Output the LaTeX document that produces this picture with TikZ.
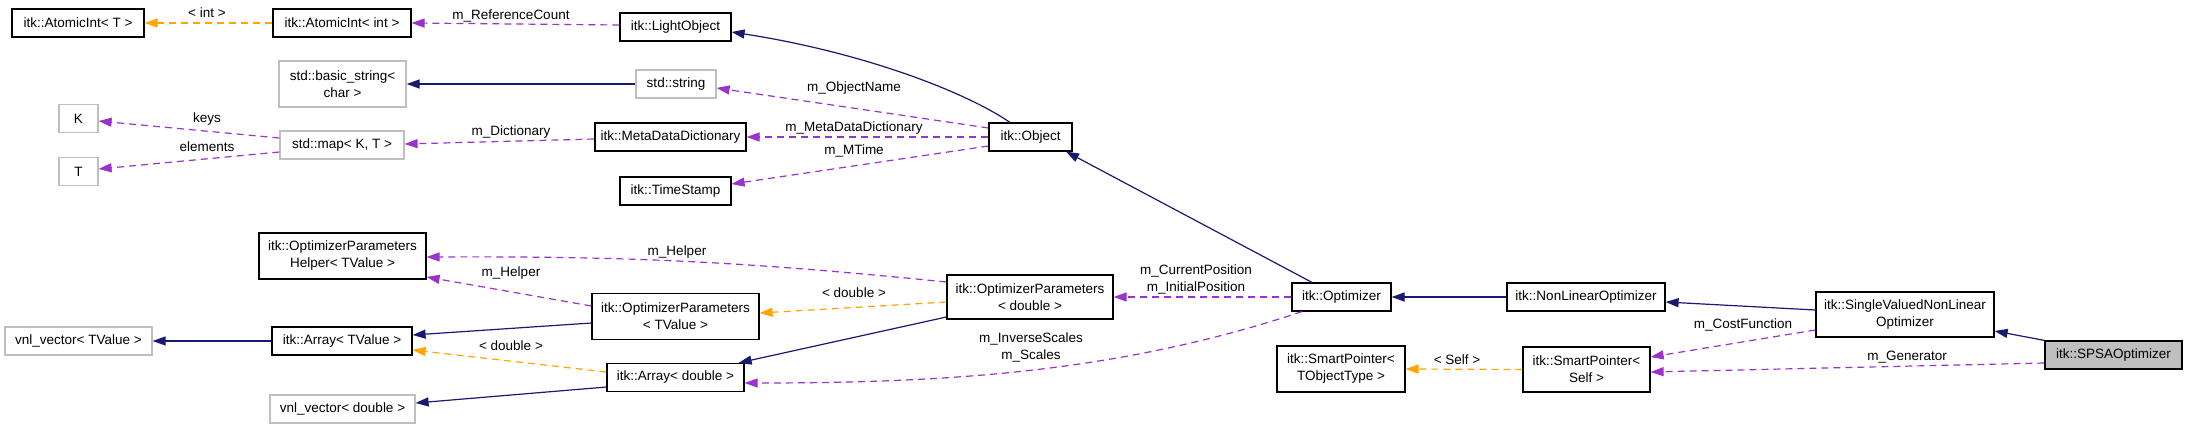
\documentclass[tikz,border=0pt]{standalone}
\usepackage{fontspec}
\setmainfont{Liberation Sans}
\usetikzlibrary{arrows.meta}
\definecolor{navy}{HTML}{191970}
\definecolor{usecol}{HTML}{9A32CD}
\definecolor{tplcol}{HTML}{FFA500}
\definecolor{gbord}{HTML}{BFBFBF}
\begin{document}
\begin{tikzpicture}[x=1pt,y=-1pt,
  every node/.style={font=\fontsize{13.5}{17}\selectfont, inner sep=0pt, align=center},
  cls/.style={draw=black, line width=1.2pt, fill=white, minimum height=28pt},
  ext/.style={draw=gbord, line width=1.2pt, fill=white, minimum height=28pt},
  tall/.style={minimum height=46pt},
  inh/.style={draw=navy, line width=1.2pt, -{Triangle[length=13pt,width=9pt]}},
  usage/.style={draw=usecol, line width=1.2pt, dash pattern=on 7pt off 5pt, -{Triangle[length=13pt,width=9pt]}},
  tpl/.style={draw=tplcol, line width=1.2pt, dash pattern=on 7pt off 5pt, -{Triangle[length=13pt,width=9pt]}},
  lbl/.style={}
]
\fill[white] (0,0) rectangle (2187,429);
\useasboundingbox (0,0) rectangle (2187,429);

% nodes
\node[cls, minimum width=132pt] (ait) at (78,23) {itk::AtomicInt< T >};
\node[cls, minimum width=138pt] (aii) at (342,23) {itk::AtomicInt< int >};
\node[cls, minimum width=111pt] (lo) at (675.5,27) {itk::LightObject};
\node[ext, tall, minimum width=127pt] (bs) at (342.5,84) {std::basic\_string<\\char >};
\node[ext, minimum width=80pt] (ss) at (676,84) {std::string};
\node[ext, minimum width=39pt] (K) at (78.5,118.5) {K};
\node[ext, minimum width=39pt] (T) at (78.5,171.5) {T};
\node[ext, minimum width=124pt] (map) at (342,145) {std::map< K, T >};
\node[cls, minimum width=151pt] (mdd) at (670.5,137) {itk::MetaDataDictionary};
\node[cls, minimum width=111pt] (ts) at (675.5,191) {itk::TimeStamp};
\node[cls, minimum width=83pt] (obj) at (1030.5,137) {itk::Object};
\node[cls, tall, minimum width=167pt] (oph) at (342.5,256) {itk::OptimizerParameters\\Helper< TValue >};
\node[cls, tall, minimum width=167pt] (opt) at (675.5,316.5) {itk::OptimizerParameters\\< TValue >};
\node[ext, minimum width=147pt] (vt) at (78.5,341) {vnl\_vector< TValue >};
\node[cls, minimum width=140pt] (at) at (342,341) {itk::Array< TValue >};
\node[cls, minimum width=137pt] (ad) at (675.5,377.5) {itk::Array< double >};
\node[ext, minimum width=145pt] (vd) at (342.5,409) {vnl\_vector< double >};
\node[cls, tall, minimum height=44pt, minimum width=166pt] (opd) at (1030,297) {itk::OptimizerParameters\\< double >};
\node[cls, minimum width=99pt] (optz) at (1341.5,297) {itk::Optimizer};
\node[cls, tall, minimum width=128pt] (spt) at (1341,369) {itk::SmartPointer<\\TObjectType >};
\node[cls, minimum width=158pt] (nlo) at (1586,297) {itk::NonLinearOptimizer};
\node[cls, tall, minimum height=45pt, minimum width=178pt] (svn) at (1905,314.5) {itk::SingleValuedNonLinear\\Optimizer};
\node[cls, minimum width=137pt, fill=gbord] (spsa) at (2113.5,355) {itk::SPSAOptimizer};
\node[cls, tall, minimum height=45pt, minimum width=127pt] (sps) at (1586.5,369.5) {itk::SmartPointer<\\Self >};

% labels
\node[lbl] (l1) at (207,13) {< int >};
\node[lbl] (l2) at (511,16) {m\_ReferenceCount};
\node[lbl] (l3) at (854,88) {m\_ObjectName};
\node[lbl] (l4) at (511,132) {m\_Dictionary};
\node[lbl] (l5) at (207,119) {keys};
\node[lbl] (l6) at (207,147) {elements};
\node[lbl] (l7) at (854,128) {m\_MetaDataDictionary};
\node[lbl] (l8) at (854,151) {m\_MTime};
\node[lbl] (l9) at (677,252) {m\_Helper};
\node[lbl] (l10) at (511,273) {m\_Helper};
\node[lbl] (l11) at (854,293) {< double >};
\node[lbl] (l12) at (511,346) {< double >};
\node[lbl] (l13) at (1196,279.5) {m\_CurrentPosition\\m\_InitialPosition};
\node[lbl] (l14) at (1031,347.5) {m\_InverseScales\\m\_Scales};
\node[lbl] (l15) at (1743,325) {m\_CostFunction};
\node[lbl] (l16) at (1907,357) {m\_Generator};
\node[lbl] (l17) at (1457,360) {< Self >};

% edges
\draw[tpl] (aii.west) -- (ait.east);
\draw[usage] ([yshift=2pt]lo.west) -- (aii.east);
\draw[inh] ([xshift=-20.5pt]obj.north) .. controls (964,91) and (861,52) .. ([yshift=-5pt]lo.east);
\draw[inh] (ss.west) -- (bs.east);
\draw[usage] ([yshift=9pt]obj.west) -- ([yshift=-4pt]ss.east);
\draw[usage] ([yshift=-2pt]mdd.west) -- ([yshift=1pt]map.east);
\draw[usage] ([yshift=7pt]map.west) -- ([yshift=-2.5pt]K.east);
\draw[usage] ([yshift=-7pt]map.west) -- ([yshift=2.5pt]T.east);
\draw[usage] (obj.west) -- (mdd.east);
\draw[usage] ([yshift=-9pt]obj.west) -- ([yshift=7pt]ts.east);
\draw[inh] ([xshift=-29.5pt]optz.north) -- ([xshift=35.5pt]obj.south);
\draw[usage] ([yshift=15pt]opd.west) to[bend right=3] ([yshift=-1pt]oph.east);
\draw[usage] ([yshift=10.5pt]opt.west) -- ([yshift=-21pt]oph.east);
\draw[tpl] ([yshift=-5pt]opd.west) -- ([yshift=3.5pt]opt.east);
\draw[inh] ([yshift=-6.5pt]opt.west) -- ([yshift=6pt]at.east);
\draw[inh] (at.west) -- (vt.east);
\draw[tpl] ([yshift=5.5pt]ad.west) -- ([yshift=-9pt]at.east);
\draw[inh] ([yshift=-9.5pt]ad.west) -- ([yshift=6pt]vd.east);
\draw[inh] ([yshift=-20pt]opd.west) -- ([xshift=-6pt]ad.north east);
\draw[usage] (optz.west) -- (opd.east);
\draw[usage] ([xshift=-39.5pt]optz.south) .. controls (1120,372) and (950,383) .. ([yshift=-5.5pt]ad.east);
\draw[inh] (nlo.west) -- (optz.east);
\draw[inh] ([yshift=4.5pt]svn.west) -- ([yshift=-5pt]nlo.east);
\draw[inh] (spsa.north west) -- ([yshift=-16.5pt]svn.east);
\draw[usage] ([yshift=-15.5pt]svn.west) -- ([yshift=12.5pt]sps.east);
\draw[usage] ([yshift=-8pt]spsa.west) -- ([yshift=-2.5pt]sps.east);
\draw[tpl] (sps.west) -- (spt.east);
\end{tikzpicture}
\end{document}
